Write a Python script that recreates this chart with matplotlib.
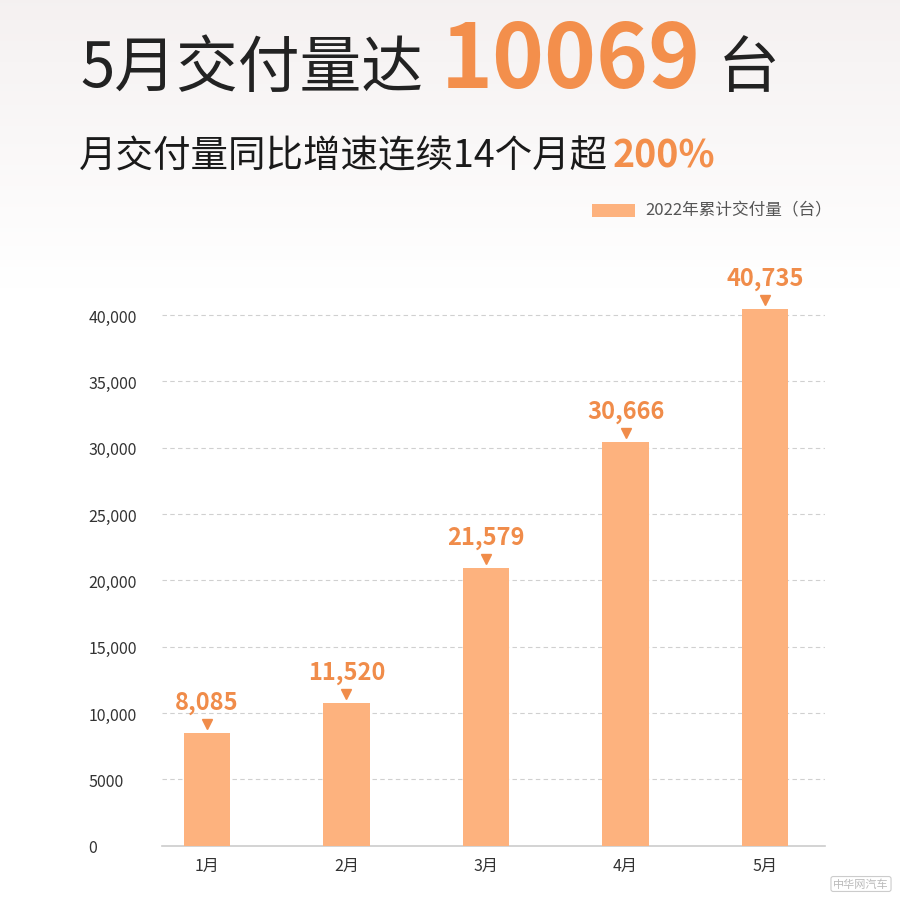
import numpy as np
import matplotlib
matplotlib.use('Agg')
import matplotlib.pyplot as plt
import matplotlib.transforms as mtransforms
from matplotlib.patches import Rectangle

plt.rcParams['font.family'] = ['Noto Sans CJK SC', 'DejaVu Sans']

# 数据
months = ['1月', '2月', '3月', '4月', '5月']
bar_heights = [8530, 10770, 20900, 30420, 40450]   # 图中柱子高度
label_values = [8085, 11520, 21579, 30666, 40735]  # 柱顶标注
yticks = [0, 5000, 10000, 15000, 20000, 25000, 30000, 35000, 40000]
ytick_labels = ['0', '5000', '10,000', '15,000', '20,000', '25,000', '30,000', '35,000', '40,000']

W, H = 900, 903
bar_color = '#FDB27E'
label_color = '#F08C4A'

fig = plt.figure(figsize=(W / 100, H / 100), dpi=100)

# 背景渐变
bg = fig.add_axes([0, 0, 1, 1], zorder=-10)
grad = np.linspace(0, 1, 256)[:, None]
top = np.array([0.96, 0.945, 0.945])
bot = np.array([1.0, 1.0, 1.0])
t = np.clip(grad / 0.32, 0, 1)
img = top * (1 - t)[..., None] + bot * t[..., None]
img = np.repeat(img, 2, axis=1)
bg.imshow(img, aspect='auto', extent=[0, 1, 0, 1], origin='upper')
bg.axis('off')

def fx(px):
    return px / W

def fy(py):
    return 1 - py / H

# 标题
fig.text(fx(80), fy(87), '5月交付量达', fontsize=44.5, color='#222222', va='baseline')
fig.text(fx(441), fy(88), '10069', fontsize=63.5, color='#F38F4C', fontweight='bold', va='baseline')
fig.text(fx(718), fy(87), '台', fontsize=44.5, color='#222222', va='baseline')

sub = fig.text(fx(79), fy(167), '月交付量同比增速连续14个月超', fontsize=27, color='#1a1a1a', va='baseline')
fig.text(fx(613), fy(167), '200%', fontsize=27, color='#F38F4C', fontweight='bold', va='baseline')

# 图例
fig.patches.append(Rectangle((fx(592), fy(218)), fx(43), 13 / H, transform=fig.transFigure,
                             facecolor=bar_color, edgecolor='none'))
fig.text(fx(645), fy(211), '2022年累计交付量（台）', fontsize=12, color='#555555', va='center')

# 柱状图
ax_left, ax_right = 162, 825
y0_px = 846.7
px_per_unit = (846.7 - 316) / 40000
ymax = 44000
ax = fig.add_axes([fx(ax_left), (H - y0_px) / H, (ax_right - ax_left) / W, ymax * px_per_unit / H])
ax.patch.set_alpha(0)

x = np.arange(len(months))
ax.bar(x, bar_heights, width=0.333, color=bar_color, zorder=3)
ax.set_xlim(-0.321, 4.429)
ax.set_ylim(0, ymax)

ax.set_yticks(yticks)
ax.set_yticklabels(ytick_labels)
ax.yaxis.grid(True, linestyle=(0, (4, 3)), color='#d0d0d0', linewidth=0.8)
ax.set_axisbelow(True)
for s in ['top', 'right', 'left']:
    ax.spines[s].set_visible(False)
ax.spines['bottom'].set_color('#cccccc')
ax.spines['bottom'].set_linewidth(1.2)
ax.tick_params(axis='y', length=0, labelsize=11.5, labelcolor='#333333', pad=53)
for lab in ax.get_yticklabels():
    lab.set_horizontalalignment('left')
ax.set_xticks(x)
ax.set_xticklabels(months)
ax.tick_params(axis='x', length=0, labelsize=11.5, labelcolor='#333333', pad=8)

# 顶部标注和三角
tri_trans = mtransforms.offset_copy(ax.transData, fig=fig, x=0, y=9, units='dots')
ax.plot(x, bar_heights, linestyle='none', marker='v', markersize=7, color=label_color,
        transform=tri_trans, clip_on=False, zorder=4)
for xi, h, v in zip(x, bar_heights, label_values):
    ax.annotate(f'{v:,}', xy=(xi, h), xytext=(0, 19), textcoords='offset pixels',
                ha='center', va='bottom', fontsize=17, fontweight='bold', color=label_color)

# 水印
fig.text(fx(861), fy(885), '中华网汽车', fontsize=8, color='#bbbbbb', ha='center', va='center',
         bbox=dict(boxstyle='round,pad=0.2', facecolor='none', edgecolor='#cccccc', linewidth=0.8))

fig.savefig('out.png', dpi=100)
